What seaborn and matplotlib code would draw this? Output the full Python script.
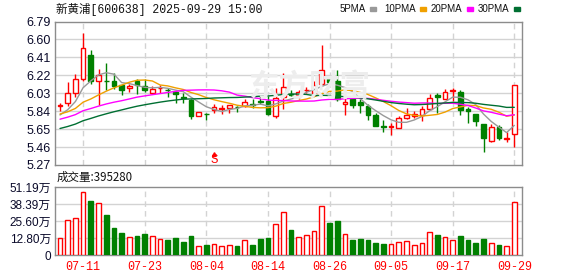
import numpy as np
import pandas as pd
import matplotlib
matplotlib.use("Agg")
import matplotlib.pyplot as plt
from matplotlib.patches import Rectangle
import seaborn as sns

# ---------------- data ----------------
dates = ["07-08", "07-09", "07-10", "07-11", "07-14", "07-15", "07-16", "07-17", "07-18",
         "07-21", "07-22", "07-23", "07-24", "07-25", "07-28", "07-29", "07-30", "07-31",
         "08-01", "08-04", "08-05", "08-06", "08-07", "08-08", "08-11", "08-12", "08-13",
         "08-14", "08-15", "08-18", "08-19", "08-20", "08-21", "08-22", "08-25", "08-26",
         "08-27", "08-28", "08-29", "09-01", "09-02", "09-03", "09-04", "09-05", "09-08",
         "09-09", "09-10", "09-11", "09-12", "09-15", "09-16", "09-17", "09-18", "09-19",
         "09-22", "09-23", "09-24", "09-25", "09-26", "09-29"]
opens = [5.89, 5.924, 6.03, 6.185, 6.431, 6.16, 6.16, 6.157, 6.114, 6.086, 6.16, 6.107,
         6.037, 6.085, 6.065, 6.044, 5.995, 5.956, 5.794, 5.815, 5.854, 5.865, 5.879, 5.888,
         5.896, 5.916, 5.95, 5.949, 5.79, 5.995, 6.02, 6.012, 6.06, 6.037, 6.132, 6.195,
         6.157, 5.921, 5.967, 5.935, 5.896, 5.798, 5.68, 5.675, 5.667, 5.763, 5.79, 5.798,
         5.861, 6.009, 5.974, 6.055, 6.044, 5.86, 5.815, 5.699, 5.52, 5.675, 5.544, 5.594]
closes = [5.91, 6.037, 6.185, 6.512, 6.16, 6.227, 6.155, 6.107, 6.065, 6.11, 6.118, 6.065,
          6.079, 6.09, 6.06, 6.023, 5.984, 5.79, 5.83, 5.808, 5.882, 5.87, 5.903, 5.882,
          5.942, 5.91, 5.94, 5.808, 5.984, 6.097, 6.015, 6.044, 6.065, 6.118, 6.276, 6.153,
          5.967, 5.938, 5.903, 5.903, 5.798, 5.685, 5.675, 5.68, 5.773, 5.798, 5.808, 5.861,
          5.984, 5.991, 6.048, 6.06, 5.854, 5.847, 5.738, 5.551, 5.668, 5.551, 5.558, 6.12]
highs = [5.93, 6.15, 6.23, 6.663, 6.487, 6.283, 6.347, 6.248, 6.12, 6.125, 6.178, 6.185,
         6.107, 6.121, 6.09, 6.055, 6.03, 5.967, 5.833, 5.826, 5.914, 5.903, 5.905, 5.896,
         5.967, 5.967, 6.002, 6.002, 6.09, 6.241, 6.065, 6.065, 6.097, 6.157, 6.54, 6.195,
         6.273, 5.995, 6.002, 5.967, 5.914, 5.826, 5.745, 5.72, 5.79, 5.879, 5.843, 5.896,
         6.02, 6.03, 6.072, 6.083, 6.065, 5.889, 5.815, 5.70, 5.699, 5.692, 5.615, 6.12]
lows = [5.84, 5.89, 5.995, 6.16, 6.132, 5.903, 6.06, 6.072, 6.01, 6.044, 6.02, 6.044,
        6.02, 6.03, 5.995, 5.93, 5.93, 5.755, 5.79, 5.748, 5.819, 5.808, 5.826, 5.833,
        5.889, 5.879, 5.914, 5.80, 5.766, 5.86, 6.002, 5.967, 6.03, 6.002, 6.107, 6.143,
        5.949, 5.801, 5.879, 5.826, 5.748, 5.678, 5.622, 5.59, 5.667, 5.755, 5.763, 5.734,
        5.854, 5.826, 5.967, 5.949, 5.798, 5.71, 5.685, 5.404, 5.509, 5.537, 5.509, 5.463]
# volume in 万 (10k shares)
volumes = [12.5, 26.7, 28.2, 47.7, 40.5, 39.5, 30.0, 20.2, 16.5, 13.2, 14.0, 15.7,
           14.0, 11.7, 11.2, 12.7, 9.7, 14.2, 6.5, 7.5, 8.0, 6.7, 7.2, 6.7,
           11.0, 7.5, 11.7, 12.7, 23.7, 32.7, 18.7, 13.2, 14.7, 18.0, 36.7, 24.2,
           25.5, 15.7, 11.2, 12.0, 11.2, 9.0, 8.2, 8.2, 9.7, 10.5, 7.2, 9.0,
           17.2, 14.7, 13.2, 11.2, 14.2, 11.2, 9.0, 12.0, 9.0, 7.5, 6.7, 39.528]
# closes before the visible window (needed for the moving averages)
prior_closes = [5.40, 5.42, 5.44, 5.43, 5.45, 5.47, 5.46, 5.48, 5.50, 5.55,
                5.60, 5.65, 5.68, 5.70, 5.72, 5.70, 5.73, 5.75, 5.74, 5.73,
                5.80, 5.83, 5.85, 5.82, 5.80, 5.76, 5.75, 5.78, 5.80]
ma_periods = [5, 10, 20, 30]
ma_names = ["5PMA", "10PMA", "20PMA", "30PMA"]
ma_colors = ["#999999", "#F0A000", "#FF00FF", "#006F32"]
price_ticks = [6.79, 6.60, 6.41, 6.22, 6.03, 5.84, 5.65, 5.46, 5.27]
vol_ticks = [0, 12.80, 25.60, 38.39, 51.19]
xtick_dates = ["07-11", "07-23", "08-04", "08-14", "08-26", "09-05", "09-17", "09-29"]
signal_dates = ["08-05"]
title = "新黄浦[600638] 2025-09-29 15:00"

# ---------------- build frame ----------------
df = pd.DataFrame({"date": dates, "open": opens, "high": highs, "low": lows,
                   "close": closes, "vol": volumes})
df["idx"] = np.arange(len(df))
full_close = pd.Series(prior_closes + closes)
for p, name in zip(ma_periods, ma_names):
    df[name] = full_close.rolling(p).mean().iloc[len(prior_closes):].to_numpy()
up = df["close"] >= df["open"]

RED = "#FF0000"
GREEN = "#008000"
GRID = "#D3D3D3"
FRAME = "#8C8C8C"
TXT = "#0A0A2A"

sns.set_theme(style="white")
plt.rcParams["font.family"] = ["Liberation Sans", "Noto Sans CJK SC", "DejaVu Sans"]

W, H = 578, 276
fig = plt.figure(figsize=(W / 100, H / 100), dpi=100)
fig.patch.set_facecolor("white")


def fax(l, t, r, b):
    return fig.add_axes([l / W, 1 - b / H, (r - l) / W, (b - t) / H])


ax = fax(55, 21.5, 522, 165)
axv = fax(55, 187, 522, 255)

xlim = (-0.65, 60.0)
xt = [dates.index(d) for d in xtick_dates]

for a in (ax, axv):
    a.set_xlim(*xlim)
    for s in a.spines.values():
        s.set_color(FRAME)
        s.set_linewidth(1.0)
    a.tick_params(length=0, pad=3)
    a.set_facecolor("white")
    for x in xt:
        a.axvline(x, color=GRID, lw=1.0, ls=(0, (4, 3)), zorder=0)

# ---------------- price panel ----------------
ax.set_ylim(price_ticks[-1], price_ticks[0])
for y in price_ticks[1:-1]:
    ax.axhline(y, color=GRID, lw=1.0, zorder=0)
ax.set_yticks(price_ticks)
ax.set_yticklabels([f"{v:.2f}" for v in price_ticks], fontsize=9, color=TXT)
ax.set_xticks([])

# watermark
fig.text(309 / W, 1 - 87 / H, "东方财富", fontsize=22, color="#EDEDED",
         ha="center", va="center", family=["Noto Sans CJK SC"], weight="bold", zorder=0)

cols = np.where(up, RED, GREEN)
ax.vlines(df["idx"], df["low"], df["high"], colors=cols, lw=1.0, zorder=2)
body_h = np.maximum((df["close"] - df["open"]).abs(), 0.004)
body_b = np.minimum(df["close"], df["open"])
ax.bar(df["idx"], body_h, bottom=body_b, width=0.62,
       color=np.where(up, "white", GREEN), edgecolor=cols, linewidth=1.0, zorder=3)

for name, c in zip(ma_names, ma_colors):
    sns.lineplot(data=df, x="idx", y=name, ax=ax, color=c, lw=1.0, zorder=4,
                 legend=False)
ax.set_xlabel("")
ax.set_ylabel("")
ax.set_xlim(*xlim)

# signal marker
for d in signal_dates:
    i = dates.index(d)
    ax.text(i, 5.322, "S", color=RED, fontsize=9, ha="center", va="center",
            family=["Liberation Mono"], zorder=5)
    ax.plot([i], [5.39], marker="^", color=RED, ms=2.6, zorder=5)

# ---------------- volume panel ----------------
axv.set_ylim(0, vol_ticks[-1])
for y in vol_ticks[1:-1]:
    axv.axhline(y, color=GRID, lw=1.0, zorder=0)
axv.bar(df["idx"], df["vol"], width=0.62, color=np.where(up, "white", GREEN),
        edgecolor=cols, linewidth=1.0, zorder=3)
axv.set_yticks(vol_ticks)
axv.set_yticklabels(["0" if v == 0 else f"{v:.2f}万" for v in vol_ticks],
                    fontsize=8.5, color=TXT)
axv.set_xticks(xt)
axv.set_xticklabels(xtick_dates, fontsize=8.5, color=RED, family=["Liberation Mono"])
axv.tick_params(axis="x", pad=4)
axv.set_xlabel("")
axv.set_ylabel("")

# ---------------- header texts ----------------
fig.text(56 / W, 1 - 9.5 / H, title, fontsize=8.3, color="#111111", va="center",
         ha="left", family=["Liberation Mono", "Noto Sans CJK SC"])
fig.text(57 / W, 1 - 177 / H, f"成交量:{int(round(volumes[-1] * 10000))}", fontsize=8.3,
         color="#111111", va="center", ha="left", family=["Noto Sans CJK SC", "DejaVu Sans"])

renderer = fig.canvas.get_renderer()
leg_x = [340, 384, 431, 478]
for name, c, lx in zip(ma_names, ma_colors, leg_x):
    t = fig.text(lx / W, 1 - 9.5 / H, name, fontsize=7, color="#111111", va="center",
                 ha="left", family=["Liberation Sans"])
    bb = t.get_window_extent(renderer=renderer)
    sx = bb.x1 + 4
    fig.patches.append(Rectangle((sx / W, 1 - 11 / H), 6 / W, 4 / H, color=c,
                                 transform=fig.transFigure, figure=fig))

fig.savefig("out.png", dpi=100)
